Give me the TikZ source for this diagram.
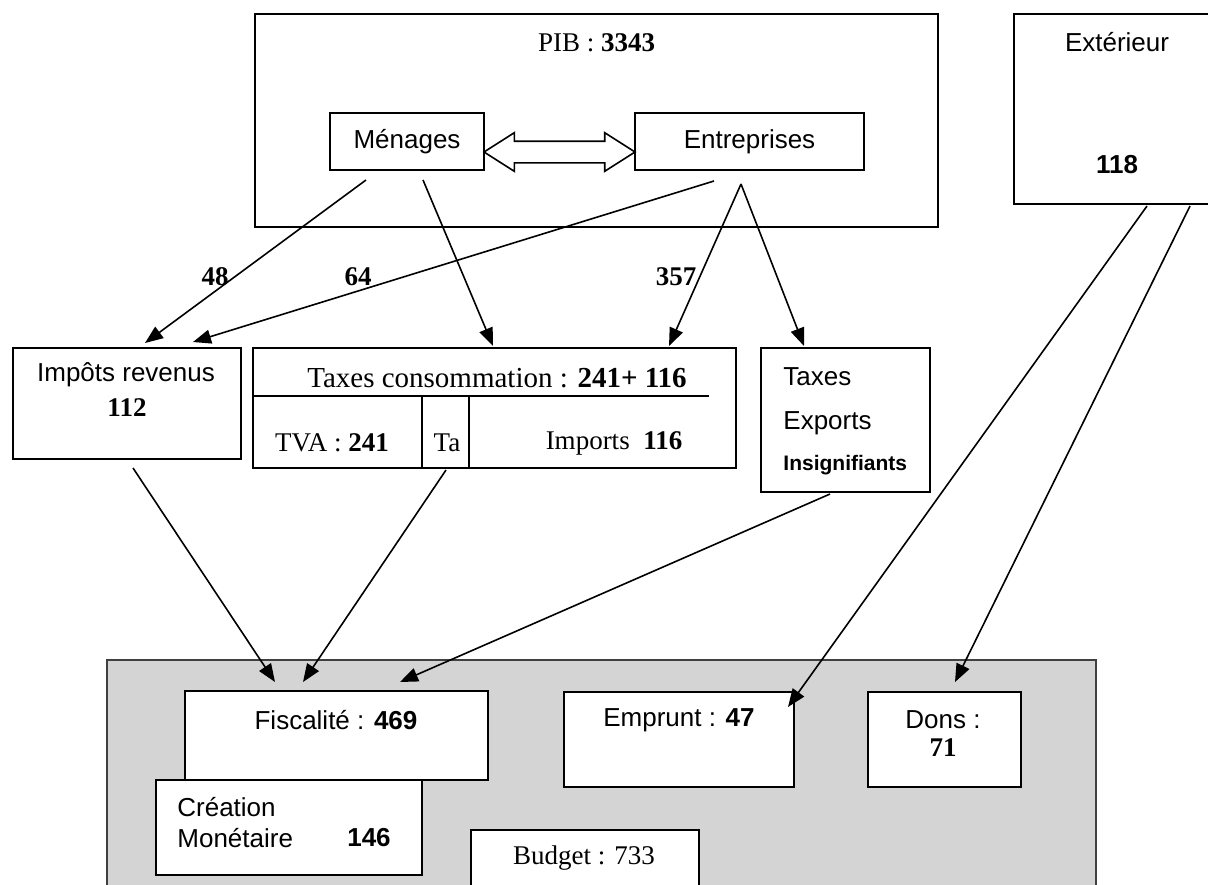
\documentclass[tikz,border=0pt]{standalone}
\usepackage{fontspec}
\setmainfont{Liberation Serif}
\setsansfont{Liberation Sans}
\usetikzlibrary{positioning, calc, arrows.meta, shapes.arrows}

\tikzset{
  boite/.style={draw, line width=1pt, fill=white, inner sep=0pt},
  texte/.style={font=\fontsize{13.5}{16}\selectfont, inner sep=0pt},
  texteS/.style={font=\sffamily\fontsize{13}{15}\selectfont, inner sep=0pt},
  fleche/.style={-{Triangle[length=9pt,width=7pt]}, line width=0.8pt},
}

\begin{document}
\begin{tikzpicture}[x=0.5pt, y=-0.5pt]
\useasboundingbox (0,0) rectangle (1208,884);

% economie
\node[boite, minimum width=341.5pt, minimum height=106.5pt] (pib) at (596.5,120.5) {};
\node[texte] (pibtxt) at (596.5,43) {PIB : \textbf{3343}};
\node[boite, texteS, minimum width=77pt, minimum height=28.5pt] (menages) at (407,141.5) {Ménages};
\node[boite, texteS, minimum width=114.5pt, minimum height=28.5pt] (entreprises) at (749.5,141.5) {Entreprises};
\node[double arrow, draw, fill=white, line width=0.8pt, inner xsep=0pt, inner ysep=5pt,
      minimum height=75.5pt, minimum width=18.5pt,
      double arrow head extend=4.25pt, double arrow tip angle=65]
  (flux) at ($(menages.east)!0.5!(entreprises.west)+(0,10.5)$) {};

\node[boite, minimum width=103pt, minimum height=95pt] (exterieur) at (1117,109) {};
\node[texteS] (exttxt) at (1117,42) {Extérieur};
\node[texteS] (ext118) at (1117,165) {\textbf{118}};

% impots et taxes
\node[boite, minimum width=114pt, minimum height=55.5pt] (impots) at (127,403.5) {};
\node[texteS] (impotstxt) at (126,375) {Impôts revenus};
\node[texte] (impots112) at (127,408) {\textbf{112}};

\node[boite, minimum width=241.5pt, minimum height=60pt] (taxescons) at (494.5,408) {};
\draw[line width=0.8pt] ($(taxescons.north west)+(0,49)$) -- ($(taxescons.north west)+(457,49)$);
\draw[line width=0.8pt] ($(taxescons.north west)+(170,49)$) -- ($(taxescons.south west)+(170,0)$);
\draw[line width=0.8pt] ($(taxescons.north west)+(217,49)$) -- ($(taxescons.south west)+(217,0)$);
\node[texte, font=\fontsize{14.5}{17}\selectfont] (taxestitre) at (497,378) {Taxes consommation : \textbf{241+ 116}};
\node[texte] (tva) at (332,443) {TVA : \textbf{241}};
\node[texte] (ta) at (447,443) {Ta};
\node[texte] (imports) at (614,443) {Imports\ \ \textbf{116}};

\node[boite, minimum width=84.5pt, minimum height=72pt] (taxesexp) at (845.5,420) {};
\node[texteS, anchor=west] (taxes) at (783,377) {Taxes};
\node[texteS, anchor=west] (exports) at (783,423) {Exports};
\node[texteS, anchor=west, font=\sffamily\bfseries\fontsize{10.5}{12}\selectfont] (insign) at (783,465) {Insignifiants};

% budget
\node[draw=black!75, line width=1pt, fill=black!17, inner sep=0pt,
      minimum width=494.5pt, minimum height=122.5pt] (zone) at (601.5,782.5) {};
\node[boite, minimum width=151.5pt, minimum height=44.5pt] (fiscalite) at (336.5,735.5) {};
\node[texteS] (fisctxt) at (336,720) {Fiscalité : \textbf{469}};
\node[boite, minimum width=133pt, minimum height=47.5pt] (creation) at (289,827.5) {};
\node[texteS, anchor=west] (creatxt) at (177,807) {Création};
\node[texteS, anchor=west] (monetxt) at (177,838) {Monétaire};
\node[texteS] (crea146) at (369,838) {\textbf{146}};
\node[boite, minimum width=115pt, minimum height=47.5pt] (emprunt) at (679,739.5) {};
\node[texteS] (emptxt) at (679,720) {Emprunt : \textbf{47}};
\node[boite, minimum width=76.5pt, minimum height=47.5pt] (dons) at (944.5,739.5) {};
\node[texteS] (donstxt) at (943,720) {Dons :};
\node[texte] (dons71) at (943,748) {\textbf{71}};
\node[boite, minimum width=114pt, minimum height=40pt] (budget) at (585,870) {};
\node[texte] (budgettxt) at (584,858) {Budget : 733};

% flux
\draw[fleche] ($(menages.south)+(-41,9)$) -- ($(impots.north)+(18,-4)$);
\draw[fleche] ($(entreprises.south)+(-35.5,10)$) -- ($(impots.north)+(66,-5)$);
\draw[fleche] ($(menages.south)+(16,9)$) -- ($(taxescons.north)+(-1.5,-1)$);
\draw[fleche] ($(entreprises.south)+(-8.5,13)$) -- ($(taxescons.north)+(174.5,-1)$);
\draw[fleche] ($(entreprises.south)+(-8.5,13)$) -- ($(taxesexp.north)+(-41.5,-1)$);
\node[texte] (n48) at (215,277) {\textbf{48}};
\node[texte] (n64) at (358,277) {\textbf{64}};
\node[texte] (n357) at (676,277) {\textbf{357}};

\draw[fleche] ($(impots.south)+(6,8)$) -- ($(fiscalite.north)+(-61.5,-8)$);
\draw[fleche] ($(taxescons.south)+(-48.5,1)$) -- ($(fiscalite.north)+(-33.5,-8)$);
\draw[fleche] ($(taxesexp.south)+(-15.5,1)$) -- ($(fiscalite.north)+(63.5,-8)$);
\draw[fleche] ($(exterieur.south)+(30,1)$) -- ($(emprunt.north east)+(-7,16)$);
\draw[fleche] ($(exterieur.south)+(73,1)$) -- ($(dons.north)+(10.5,-9)$);
\end{tikzpicture}
\end{document}
